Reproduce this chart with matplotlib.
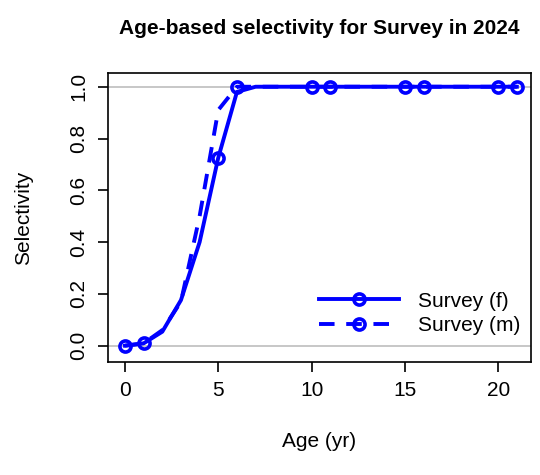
import matplotlib
matplotlib.use("Agg")
import matplotlib.pyplot as plt
import numpy as np

plt.rcParams['font.family'] = ['Liberation Sans', 'DejaVu Sans']

ages = list(range(0, 22))
sel_f = [0.0, 0.009, 0.054, 0.176, 0.40, 0.726, 0.98, 1.0, 1.0, 1.0, 1.0,
         1.0, 1.0, 1.0, 1.0, 1.0, 1.0, 1.0, 1.0, 1.0, 1.0, 1.0]
sel_m = [0.0, 0.009, 0.06, 0.17, 0.50, 0.91, 1.0, 1.0, 1.0, 1.0, 1.0,
         1.0, 1.0, 1.0, 1.0, 1.0, 1.0, 1.0, 1.0, 1.0, 1.0, 1.0]
marker_f = [0, 5, 10, 15, 20]
marker_m = [1, 6, 11, 16, 21]
labels = ["Survey (f)", "Survey (m)"]
title = "Age-based selectivity for Survey in 2024"

fs = 15
fig = plt.figure(figsize=(5.4, 4.75), dpi=100)
ax = fig.add_axes([0.2, 0.2379, 0.783, 0.6084])

ax.axhline(0, color="#bebebe", lw=1.2, zorder=1)
ax.axhline(1, color="#bebebe", lw=1.2, zorder=1)

blue = "#0000ff"
ax.plot(ages, sel_f, color=blue, lw=2.8, ls="-", marker="o", markevery=marker_f,
        ms=8, mfc="none", mew=2.6, label=labels[0], zorder=3)
ax.plot(ages, sel_m, color=blue, lw=2.8, ls=(0, (4.0, 3.0)), marker="o", markevery=marker_m,
        ms=8, mfc="none", mew=2.6, label=labels[1], zorder=3)

ax.set_xlim(-0.91, 21.75)
ax.set_ylim(-0.063, 1.053)
ax.set_xticks([0, 5, 10, 15, 20])
ax.set_yticks([0.0, 0.2, 0.4, 0.6, 0.8, 1.0])
ax.set_yticklabels(["0.0", "0.2", "0.4", "0.6", "0.8", "1.0"], rotation=90, va="center")
ax.tick_params(direction="out", length=7, width=1.2, labelsize=fs, pad=7)
for s in ax.spines.values():
    s.set_linewidth(1.2)

ax.set_xlabel("Age (yr)", fontsize=fs, labelpad=23)
ax.set_ylabel("Selectivity", fontsize=fs, labelpad=26)
ax.set_title(title, fontsize=fs, fontweight="bold", pad=28)

ax.legend(loc="lower right", bbox_to_anchor=(1.0, 0.055), frameon=False, fontsize=fs,
          handlelength=3.85, handletextpad=0.87, labelspacing=0.27, borderaxespad=0.12)

fig.savefig("out.png", dpi=100)
